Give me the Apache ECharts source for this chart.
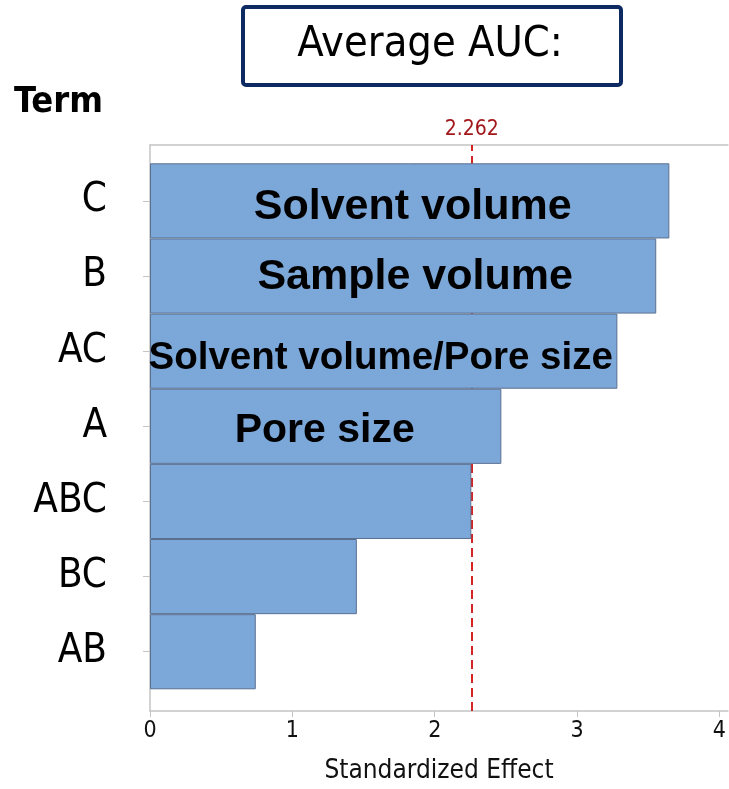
<!DOCTYPE html>
<html>
<head>
<meta charset="utf-8">
<script src="https://cdn.jsdelivr.net/npm/echarts@6/dist/echarts.min.js"></script>
<style>
html,body{margin:0;padding:0;background:#fff;}
#chart{width:729px;height:789px;}
</style>
</head>
<body>
<div id="chart"></div>
<script>
// ---- data ----
const terms = ['C', 'B', 'AC', 'A', 'ABC', 'BC', 'AB'];
const effects = [3.648, 3.556, 3.283, 2.468, 2.257, 1.453, 0.743];
const barNotes = ['Solvent volume', 'Sample volume', 'Solvent volume/Pore size', 'Pore size', '', '', ''];
const xTicks = [0, 1, 2, 3, 4];
const threshold = 2.262;
const titleText = 'Average AUC:';
const yAxisTitle = 'Term';
const xAxisTitle = 'Standardized Effect';

// ---- styles (kept apart from data) ----
const NARROW = "'Liberation Sans Narrow','DejaVu Sans Condensed',sans-serif";
const ARIAL = "'Liberation Sans',Arial,sans-serif";
const axisGray = '#c4c4c4';
const noteStyle = [
  {fontSize: 43, offset: [3, 6]},
  {fontSize: 43, offset: [12, 1]},
  {fontSize: 38.5, offset: [-3, 7]},
  {fontSize: 41, offset: [-1, 4]},
  {}, {}, {}
];

const chart = echarts.init(document.getElementById('chart'));
const xMax = 4.06;

const barData = effects.map((v, i) => {
  const item = {value: v};
  if (barNotes[i]) {
    item.label = {
      show: true,
      position: 'inside',
      formatter: barNotes[i],
      fontFamily: ARIAL,
      fontWeight: 'bold',
      color: '#000',
      fontSize: noteStyle[i].fontSize,
      offset: noteStyle[i].offset
    };
  }
  return item;
});

const option = {
  animation: false,
  backgroundColor: '#fff',
  textStyle: {fontFamily: NARROW},
  grid: [
    {left: 150, top: 145, width: 578, height: 568},
    {left: 150, top: 163.3, width: 578, height: 526}
  ],
  xAxis: [
    {
      type: 'value', gridIndex: 0, min: 0, max: xMax, position: 'bottom',
      axisLine: {show: true, lineStyle: {color: axisGray, width: 1.5}},
      axisTick: {show: true, length: 6, customValues: xTicks, lineStyle: {color: axisGray}},
      axisLabel: {customValues: xTicks, fontSize: 23, color: '#111', margin: 9, fontFamily: NARROW},
      splitLine: {show: false},
      name: xAxisTitle, nameLocation: 'middle', nameGap: 47,
      nameTextStyle: {fontSize: 26, color: '#111', fontFamily: NARROW}
    },
    {
      type: 'value', gridIndex: 0, min: 0, max: xMax, position: 'top',
      axisLine: {show: true, lineStyle: {color: axisGray, width: 1.5}},
      axisTick: {show: false}, axisLabel: {show: false}, splitLine: {show: false}
    },
    {
      type: 'value', gridIndex: 1, min: 0, max: xMax, show: false
    }
  ],
  yAxis: [
    {
      type: 'value', gridIndex: 0, min: 0, max: 1,
      axisLine: {show: true, lineStyle: {color: axisGray, width: 1.5}},
      axisTick: {show: false}, axisLabel: {show: false}, splitLine: {show: false}
    },
    {
      type: 'category', gridIndex: 1, data: terms, inverse: true,
      axisLine: {show: false},
      axisTick: {show: true, alignWithLabel: true, length: 7, lineStyle: {color: axisGray}},
      axisLabel: {fontSize: 40, color: '#000', margin: 43, fontFamily: NARROW}
    }
  ],
  series: [
    {
      type: 'line', xAxisIndex: 0, yAxisIndex: 0, data: [], z: 1, zlevel: 0,
      silent: true,
      markLine: {
        silent: true, symbol: 'none', z: 1,
        lineStyle: {color: '#d42424', type: [9, 5], width: 2},
        label: {
          show: true, position: 'end', formatter: String(threshold),
          color: '#a3171b', fontSize: 21, distance: 5, fontFamily: NARROW
        },
        data: [{xAxis: threshold}]
      }
    },
    {
      type: 'bar', xAxisIndex: 2, yAxisIndex: 1, z: 10, zlevel: 1,
      barCategoryGap: 0, barGap: 0,
      itemStyle: {color: '#7ca7d9', borderColor: '#5b7090', borderWidth: 1},
      data: barData
    }
  ],
  graphic: [
    {
      type: 'rect', left: 241, top: 5, z: 100,
      shape: {width: 378, height: 78, r: 3},
      style: {fill: '#fff', stroke: '#0e2a63', lineWidth: 4}
    },
    {
      type: 'text', z: 101, x: 430, y: 45,
      style: {text: titleText, fontSize: 43, fontFamily: NARROW, fill: '#000',
              align: 'center', verticalAlign: 'middle'}
    },
    {
      type: 'text', z: 101, x: 14, y: 103,
      style: {text: yAxisTitle, fontSize: 36, fontWeight: 'bold', fontFamily: NARROW, fill: '#000',
              align: 'left', verticalAlign: 'middle'}
    }
  ]
};
chart.setOption(option);
</script>
</body>
</html>
